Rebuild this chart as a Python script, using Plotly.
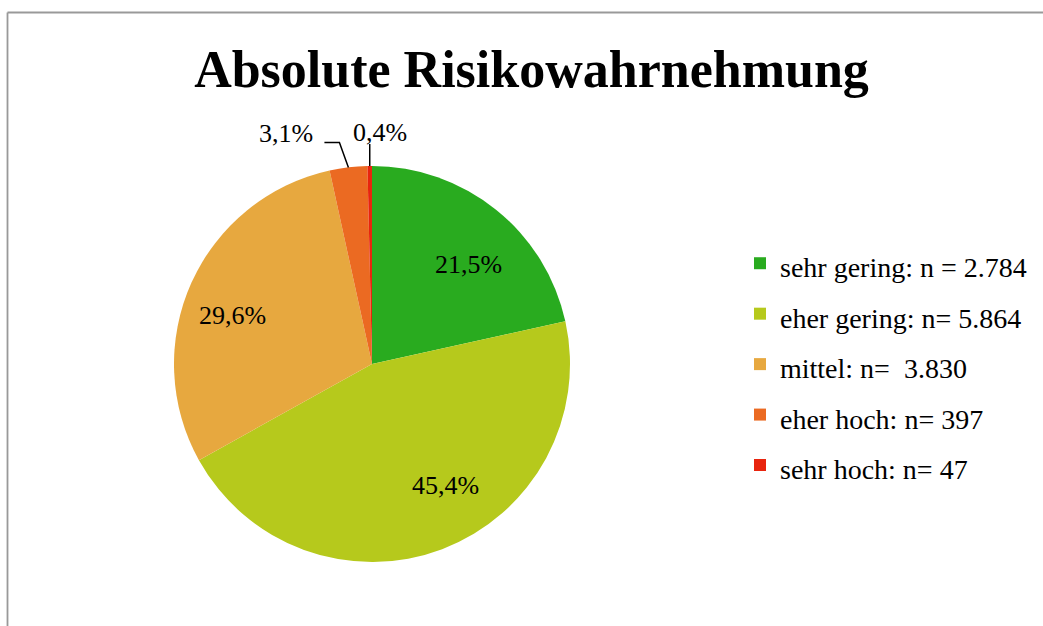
import math
import plotly.graph_objects as go

# ---- data ----
categories = ["sehr gering: n = 2.784", "eher gering: n= 5.864", "mittel: n=  3.830",
              "eher hoch: n= 397", "sehr hoch: n= 47"]
counts = [2784, 5864, 3830, 397, 47]
colors = ["#29AB1F", "#B6C91C", "#E7A83F", "#EB6A22", "#E8240E"]
title_text = "Absolute Risikowahrnehmung"

# ---- geometry (pixels) ----
W, H = 1043, 626
CX, CY, R = 372, 364, 198
FONT = "Liberation Serif"

total = sum(counts)
pct_text = [f"{v / total * 100:.1f}".replace(".", ",") + "%" for v in counts]

fig = go.Figure()
fig.add_trace(go.Pie(
    labels=[f'<span style="font-size:28px">{c}</span>' for c in categories],
    values=counts,
    sort=False,
    direction="clockwise",
    rotation=0,
    marker=dict(colors=colors, line=dict(width=0)),
    textinfo="none",
    hoverinfo="label+value+percent",
    domain=dict(x=[(CX - R) / W, (CX + R) / W],
                y=[(H - CY - R) / H, (H - CY + R) / H]),
))

def px2paper(x, y):
    return x / W, 1 - y / H

# label placement styles: inside labels at a radius fraction with a small nudge,
# outside labels with a leader line
label_style = {
    0: dict(kind="inside", rf=0.72, nudge=(7, 12)),
    1: dict(kind="inside", rf=0.72, nudge=(23, -12)),
    2: dict(kind="inside", rf=0.72, nudge=(-10, 10)),
    3: dict(kind="outside", path=[(-9, -25), (-24, -25)], text_dx=-33, text_dy=-34, anchor="right"),
    4: dict(kind="outside", path=[(0, -22)], text_dx=10, text_dy=-34, anchor="center"),
}
shapes = []
annotations = []
cum = 0
for i, v in enumerate(counts):
    theta = (cum + v / 2) / total * 2 * math.pi
    cum += v
    st = label_style[i]
    if st["kind"] == "inside":
        r = R * st["rf"]
        lx = CX + r * math.sin(theta) + st["nudge"][0]
        ly = CY - r * math.cos(theta) + st["nudge"][1]
        tx, ty = px2paper(lx, ly)
        annotations.append(dict(x=tx, y=ty, xref="paper", yref="paper", text=pct_text[i],
                                showarrow=False, xanchor="center", yanchor="middle",
                                font=dict(family=FONT, size=26, color="black")))
        continue
    ex = CX + R * math.sin(theta)
    ey = CY - R * math.cos(theta)
    pts = [(ex, ey)] + [(ex + dx, ey + dy) for dx, dy in st["path"]]
    path = "M " + " L ".join("%f,%f" % px2paper(x, y) for x, y in pts)
    shapes.append(dict(type="path", path=path, xref="paper", yref="paper",
                       line=dict(color="black", width=1.5)))
    tx, ty = px2paper(ex + st["text_dx"], ey + st["text_dy"])
    annotations.append(dict(x=tx, y=ty, xref="paper", yref="paper", text=pct_text[i],
                            showarrow=False, xanchor=st["anchor"], yanchor="middle",
                            font=dict(family=FONT, size=26, color="black")))

# chart border (top and left)
shapes.append(dict(type="line", xref="paper", yref="paper",
                   x0=7.5 / W, x1=1, y0=1 - 12.5 / H, y1=1 - 12.5 / H,
                   line=dict(color="#999999", width=1.8)))
shapes.append(dict(type="line", xref="paper", yref="paper",
                   x0=7.5 / W, x1=7.5 / W, y0=0, y1=1 - 12.5 / H,
                   line=dict(color="#999999", width=1.8)))

fig.update_layout(
    width=W, height=H,
    margin=dict(l=0, r=0, t=0, b=0),
    paper_bgcolor="white",
    plot_bgcolor="white",
    title=dict(text=title_text, x=531.5 / W, xanchor="center", xref="container",
               y=1 - 69 / H, yanchor="middle", yref="container",
               font=dict(family=FONT, size=52, color="black", weight="bold")),
    legend=dict(x=740 / W, y=1 - 233 / H, xanchor="left", yanchor="top",
                font=dict(family=FONT, size=36.5, color="black"),
                bgcolor="rgba(0,0,0,0)", traceorder="normal"),
    shapes=shapes,
    annotations=annotations,
    showlegend=True,
)

fig.write_html(
    "out.html",
    config={"displayModeBar": False},
    post_script="document.body.style.margin='0';document.body.style.overflow='hidden';",
)
